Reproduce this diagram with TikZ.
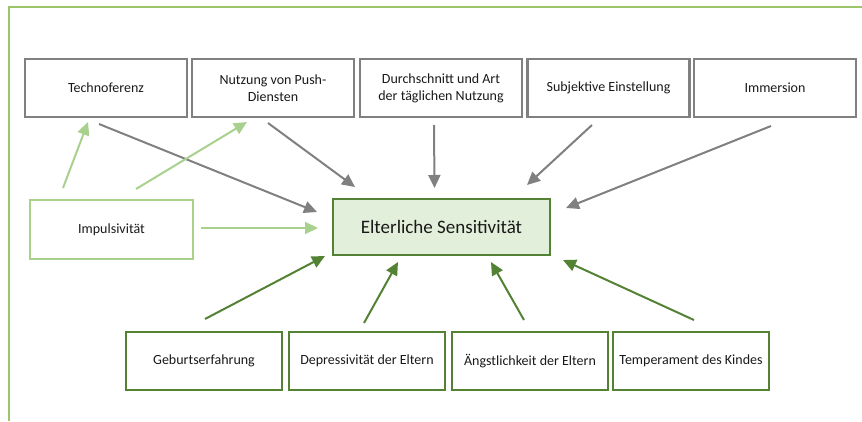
\documentclass[tikz,border=0pt]{standalone}
\usepackage{fontspec}
\setmainfont{Carlito}
\usetikzlibrary{arrows.meta}
\definecolor{framegreen}{HTML}{9CC56B}
\definecolor{boxgray}{HTML}{808080}
\definecolor{lightgreen}{HTML}{A9D18E}
\definecolor{darkgreen}{HTML}{548235}
\definecolor{fillgreen}{HTML}{E2EFDA}
\begin{document}
\begin{tikzpicture}[x=1pt,y=1pt,
  base/.style={rectangle,inner sep=0pt,outer sep=0pt,align=center,line width=2.2pt,
    font=\fontsize{14}{17}\selectfont,text=black!90},
  graybox/.style={base,draw=boxgray,minimum width=162pt,minimum height=58pt},
  impbox/.style={base,draw=lightgreen,minimum width=163pt,minimum height=59pt},
  eltbox/.style={base,draw=darkgreen,fill=fillgreen,minimum width=217pt,minimum height=56pt,
    font=\fontsize{19}{23}\selectfont},
  bottombox/.style={base,draw=darkgreen,minimum width=156pt,minimum height=58pt},
  garrow/.style={draw=boxgray,line width=2pt,-{Triangle[length=13pt,width=12pt]}},
  larrow/.style={draw=lightgreen,line width=2pt,-{Triangle[length=13pt,width=12pt]}},
  darrow/.style={draw=darkgreen,line width=2pt,-{Triangle[length=13pt,width=12pt]}}
]
\useasboundingbox (0,0) rectangle (862,-421);
\draw[framegreen,line width=2pt] (8.5,-421) -- (8.5,-7) -- (862,-7);

\node[graybox] (tech)  at (106,-88)   {Technoferenz};
\node[graybox] (push)  at (273,-88)   {Nutzung von Push-\\Diensten};
\node[graybox] (durch) at (441,-88)   {Durchschnitt und Art\\der täglichen Nutzung};
\node[graybox] (subj)  at (608.5,-88) {Subjektive Einstellung};
\node[graybox] (imm)   at (775,-88)   {Immersion};
\node[impbox]  (imp)   at (111.5,-229.5) {Impulsivität};
\node[eltbox]  (elt)   at (441.5,-227) {Elterliche Sensitivität};
\node[bottombox] (geb)  at (204,-361) {Geburtserfahrung};
\node[bottombox] (dep)  at (367,-361) {Depressivität der Eltern};
\node[bottombox] (aen)  at (530,-361) {Ängstlichkeit der Eltern};
\node[bottombox] (temp) at (691,-361) {Temperament des Kindes};

\draw[garrow] ([shift={(-7,-36)}]tech.center) -- ([shift={(-124.5,15)}]elt.center);
\draw[garrow] ([shift={(-5,-35)}]push.center) -- ([shift={(-86.5,40)}]elt.center);
\draw[garrow] ([shift={(-7,-37)}]durch.center) -- ([shift={(-7,39)}]elt.center);
\draw[garrow] ([shift={(-16.5,-37)}]subj.center) -- ([shift={(85.5,42)}]elt.center);
\draw[garrow] ([shift={(-4,-38)}]imm.center) -- ([shift={(124.5,19)}]elt.center);

\draw[larrow] ([shift={(-48.5,41.5)}]imp.center) -- ([shift={(-18,-34)}]tech.center);
\draw[larrow] ([shift={(24.5,40.5)}]imp.center) -- ([shift={(-26,-34)}]push.center);
\draw[larrow] ([shift={(89.5,1.5)}]imp.center) -- ([shift={(-123.5,-1)}]elt.center);

\draw[darrow] ([shift={(1,42)}]geb.center) -- ([shift={(-116.5,-29)}]elt.center);
\draw[darrow] ([shift={(-3,38)}]dep.center) -- ([shift={(-43.5,-35)}]elt.center);
\draw[darrow] ([shift={(-6,41)}]aen.center) -- ([shift={(49.5,-35)}]elt.center);
\draw[darrow] ([shift={(3,41)}]temp.center) -- ([shift={(121.5,-33)}]elt.center);
\end{tikzpicture}
\end{document}
